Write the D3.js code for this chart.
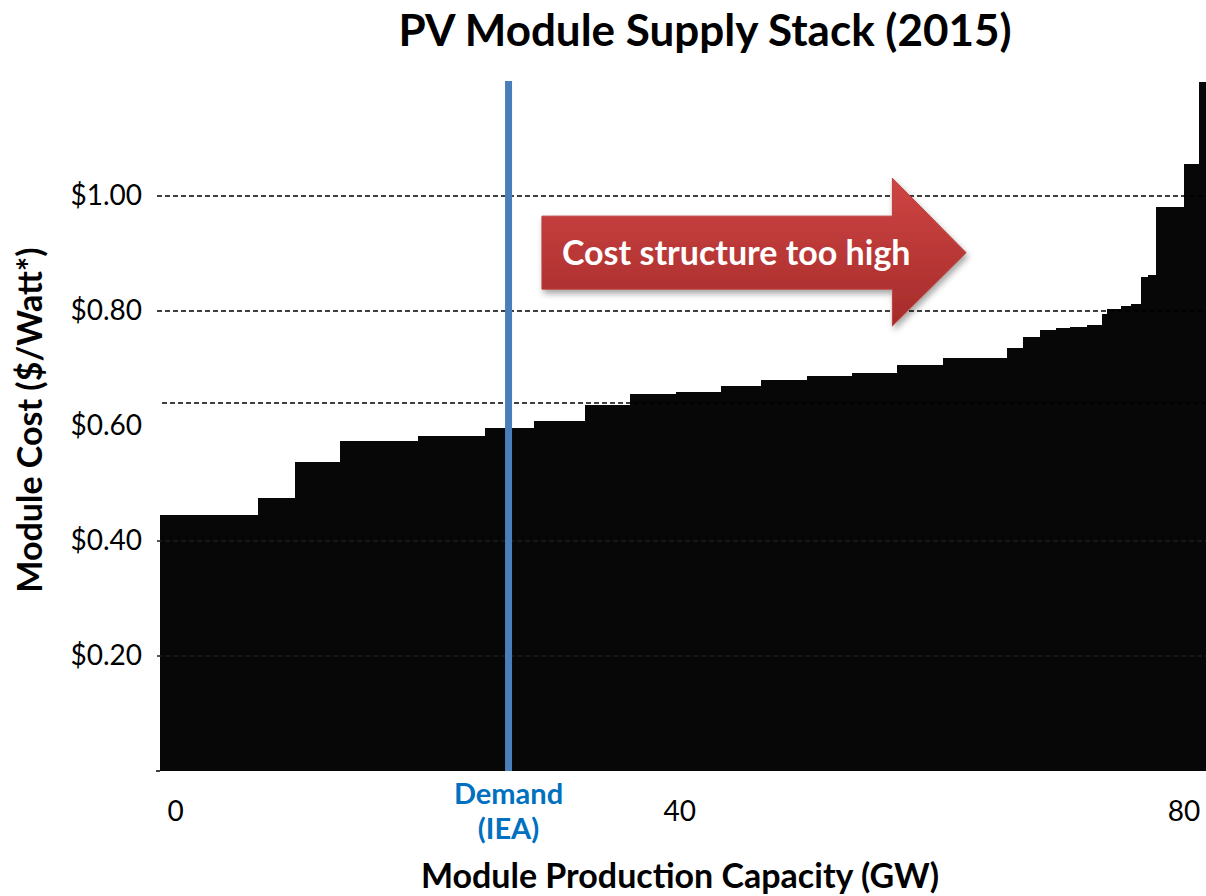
<!DOCTYPE html>
<meta charset="utf-8">
<head>
    <title>PV Module Supply Stack</title>
    <script src="https://cdn.jsdelivr.net/npm/d3@7"></script>
    <style>
        body { margin: 0; background: #fff; }
        text { font-family: Lato, "Open Sans", sans-serif; }
    </style>
</head>
<body>
    <div id="chart"></div>
    <script>
        // capacity of each producer block (GW), sorted by cost
        const capacities = [7.8, 2.9, 3.6, 6.2, 5.3, 3.9, 4.0, 3.6, 3.6, 3.6, 3.2, 3.6, 3.6, 3.6, 3.6, 5.1,
            1.3, 1.3, 1.3, 1.1, 1.3, 1.2, 0.4, 1.1, 0.8, 0.8, 0.6, 0.6, 2.2, 1.2, 0.5];
        // module cost of each block ($/W)
        const costs = [0.445, 0.475, 0.537, 0.574, 0.583, 0.597, 0.609, 0.637, 0.656, 0.659, 0.670, 0.680,
            0.687, 0.692, 0.706, 0.718, 0.736, 0.755, 0.767, 0.770, 0.772, 0.776, 0.795, 0.803, 0.809,
            0.812, 0.859, 0.863, 0.981, 1.056, 1.198];
        const yTicks = [0.2, 0.4, 0.6, 0.8, 1.0];
        const gridLines = [0.2, 0.4, 0.64, 0.8, 1.0];
        const xTicks = [0, 40, 80];
        const demand = 27.65;

        const width = 1206, height = 896;
        const margin = { top: 81, right: 1, bottom: 125, left: 160 };

        const svg = d3.select("#chart").append("svg")
            .attr("width", width)
            .attr("height", height);

        // cumulative stack
        let acc = 0;
        const blocks = capacities.map((c, i) => {
            const b = { x0: acc, x1: acc + c, cost: costs[i] };
            acc += c;
            return b;
        });

        const x = d3.scaleLinear().domain([0, acc]).range([margin.left, width - margin.right]);
        const y = d3.scaleLinear().domain([0, 1.2]).range([height - margin.bottom, margin.top]);

        // title
        svg.append("text")
            .attr("x", 705).attr("y", 46)
            .attr("text-anchor", "middle")
            .style("font-size", "44px").style("font-weight", "bold")
            .text("PV Module Supply Stack (2015)");

        // bars
        svg.append("g")
            .attr("shape-rendering", "crispEdges")
            .selectAll("rect")
            .data(blocks)
            .enter().append("rect")
            .attr("x", d => x(d.x0))
            .attr("width", d => x(d.x1) - x(d.x0) + 1)
            .attr("y", d => y(d.cost))
            .attr("height", d => y(0) - y(d.cost))
            .attr("fill", "#070707");

        // dashed gridlines
        svg.append("g").selectAll("line")
            .data(gridLines)
            .enter().append("line")
            .attr("x1", d => d === 0.64 ? 162 : 157)
            .attr("x2", width)
            .attr("y1", d => y(d)).attr("y2", d => y(d))
            .attr("stroke", d => d < 0.5 ? "#1e1e1e" : "#000")
            .attr("stroke-width", 1.3)
            .attr("stroke-dasharray", "5,3");

        // y axis
        const yAxis = d3.axisLeft(y).tickValues(yTicks)
            .tickFormat(d => "$" + d3.format(".2f")(d))
            .tickSize(0).tickPadding(18);
        const gy = svg.append("g")
            .attr("transform", "translate(" + margin.left + ",0)")
            .call(yAxis);
        gy.select(".domain").remove();
        gy.selectAll("text").style("font-size", "28px").attr("fill", "#000")
            .attr("font-family", null);
        svg.append("line")
            .attr("x1", 156).attr("x2", margin.left)
            .attr("y1", y(0)).attr("y2", y(0))
            .attr("stroke", "#000").attr("stroke-width", 1.5);

        // x axis
        const xAxis = d3.axisBottom(x).tickValues(xTicks).tickSize(0).tickPadding(30);
        const gx = svg.append("g")
            .attr("transform", "translate(15," + y(0) + ")")
            .call(xAxis);
        gx.select(".domain").remove();
        gx.selectAll("text").style("font-size", "28px").attr("fill", "#000")
            .attr("font-family", null);

        // demand line
        svg.append("line")
            .attr("x1", x(demand)).attr("x2", x(demand))
            .attr("y1", y(1.2)).attr("y2", y(0))
            .attr("stroke", "#4a7ebb").attr("stroke-width", 7);
        const dl = svg.append("text")
            .attr("x", x(demand)).attr("y", 804)
            .attr("text-anchor", "middle")
            .attr("fill", "#0070c0")
            .style("font-size", "29px").style("font-weight", "bold");
        dl.append("tspan").attr("x", x(demand)).text("Demand");
        dl.append("tspan").attr("x", x(demand)).attr("dy", 35).text("(IEA)");

        // axis titles
        svg.append("text")
            .attr("x", 680).attr("y", 888)
            .attr("text-anchor", "middle")
            .style("font-size", "34px").style("font-weight", "bold")
            .text("Module Production Capacity (GW)");
        svg.append("text")
            .attr("transform", "translate(42,420) rotate(-90)")
            .attr("text-anchor", "middle")
            .style("font-size", "34px").style("font-weight", "bold")
            .text("Module Cost ($/Watt*)");

        // arrow annotation, in data units
        const arrowBody = [30.3, 58.1];      // GW: left edge, head base
        const arrowTip = 63.95;
        const arrowY = [0.965, 0.838];       // body top / bottom
        const headY = [1.031, 0.774];        // head top / bottom
        const defs = svg.append("defs");
        const grad = defs.append("linearGradient").attr("id", "redGrad")
            .attr("x1", 0).attr("y1", 0).attr("x2", 0).attr("y2", 1);
        grad.append("stop").attr("offset", "0%").attr("stop-color", "#cf4544");
        grad.append("stop").attr("offset", "100%").attr("stop-color", "#a52b2a");
        const shadow = defs.append("filter").attr("id", "shadow")
            .attr("x", "-10%").attr("y", "-10%").attr("width", "130%").attr("height", "140%");
        shadow.append("feDropShadow").attr("dx", 2).attr("dy", 4).attr("stdDeviation", 3)
            .attr("flood-color", "#000").attr("flood-opacity", 0.35);

        const midY = (arrowY[0] + arrowY[1]) / 2;
        const pts = [
            [x(arrowBody[0]), y(arrowY[0])],
            [x(arrowBody[1]), y(arrowY[0])],
            [x(arrowBody[1]), y(headY[0])],
            [x(arrowTip), y(midY)],
            [x(arrowBody[1]), y(headY[1])],
            [x(arrowBody[1]), y(arrowY[1])],
            [x(arrowBody[0]), y(arrowY[1])]
        ];
        svg.append("path")
            .attr("d", "M" + pts.join("L") + "Z")
            .attr("fill", "url(#redGrad)")
            .attr("stroke", "#b8403f").attr("stroke-width", 1)
            .attr("filter", "url(#shadow)");
        svg.append("text")
            .attr("x", x(arrowBody[0]) + 20).attr("y", y(midY) + 12)
            .attr("fill", "#fff")
            .style("font-size", "34px").style("font-weight", "bold")
            .text("Cost structure too high");
    </script>
</body>
</html>
